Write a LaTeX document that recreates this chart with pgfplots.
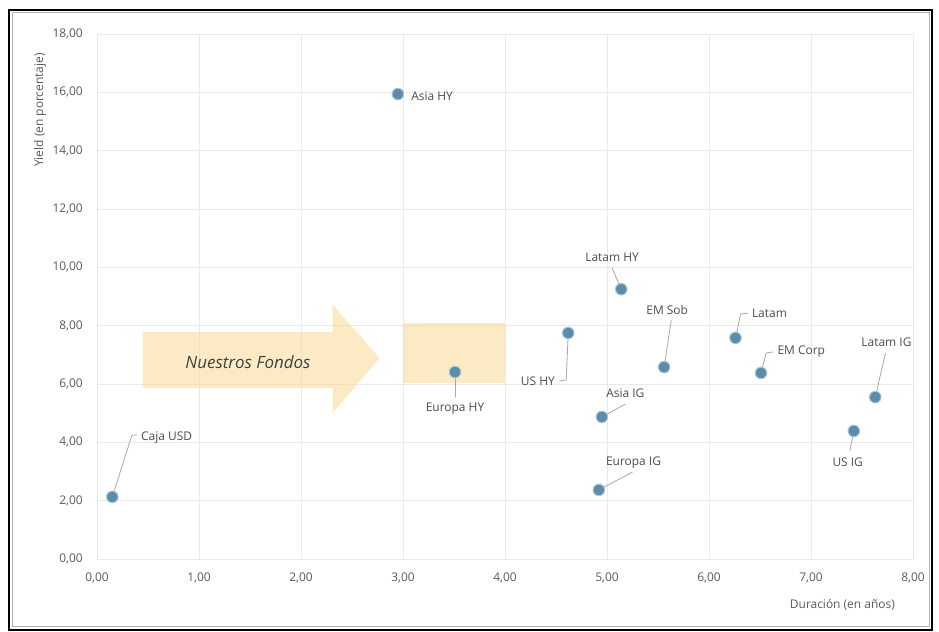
\documentclass[border=0pt]{standalone}
\usepackage{fontspec}
\setmainfont{Open Sans}
\usepackage{pgfplots}
\pgfplotsset{compat=1.18}
\definecolor{gridgray}{HTML}{E9E9E9}
\definecolor{tickgray}{HTML}{5A5A5A}
\definecolor{dotblue}{HTML}{5B8DAB}
\definecolor{dotring}{HTML}{A9C6D8}
\definecolor{leader}{HTML}{A8A8A8}
\definecolor{fondo}{RGB}{250,218,150}
\begin{document}
\begin{tikzpicture}
\path[use as bounding box] (0,0) rectangle (939bp,632bp);
\fill[white] (0,0) rectangle (939bp,632bp);
\begin{axis}[
  at={(97bp,73bp)}, anchor=south west,
  scale only axis, width=816bp, height=525bp,
  xmin=0, xmax=8, ymin=0, ymax=18,
  xtick={0,1,...,8}, ytick={0,2,...,18},
  grid=major, grid style={draw=gridgray, line width=0.9bp},
  axis line style={draw=gridgray, line width=0.9bp},
  tick style={draw=none},
  /pgf/number format/.cd, fixed, fixed zerofill, precision=2, use comma, assume math mode=true,
  /pgfplots/.cd,
  ticklabel style={font=\fontsize{12}{14}\selectfont, text=tickgray, inner sep=0pt},
  xticklabel style={anchor=center, yshift=-19bp},
  yticklabel style={anchor=east, xshift=-14bp},
  clip=false,
]
% dots
\addplot[only marks, mark=*, mark size=5.8bp, mark options={fill=dotblue, draw=dotring, line width=1bp}]
coordinates {
(0.15,2.13) (2.95,15.94) (3.51,6.41) (4.62,7.75) (5.14,9.25) (4.95,4.87)
(4.92,2.37) (5.56,6.58) (6.26,7.58) (6.51,6.38) (7.63,5.55) (7.42,4.39)
};
% Nuestros Fondos arrow and box
\fill[fondo, opacity=0.55] (axis cs:0.45,5.86) -- (axis cs:2.31,5.86) -- (axis cs:2.31,5.0)
  -- (axis cs:2.77,6.89) -- (axis cs:2.31,8.71) -- (axis cs:2.31,7.78) -- (axis cs:0.45,7.78) -- cycle;
\fill[fondo, opacity=0.55] (axis cs:3,6.05) rectangle (axis cs:4,8.08);
\node[font=\fontsize{17}{20}\selectfont\itshape, text=black!75] at (axis cs:1.48,6.75) {Nuestros Fondos};
% leaders
\begin{scope}[draw=leader, line width=0.8bp]
\draw (axis cs:0.15,2.13) -- (axis cs:0.343,4.25) -- (axis cs:0.392,4.25);
\draw (axis cs:3.51,6.41) -- (axis cs:3.51,5.55);
\draw (axis cs:4.62,7.75) -- (axis cs:4.60,6.14) -- (axis cs:4.53,6.10);
\draw (axis cs:5.14,9.25) -- (axis cs:5.05,9.98);
\draw (axis cs:4.95,4.87) -- (axis cs:5.18,5.31);
\draw (axis cs:4.92,2.37) -- (axis cs:5.25,2.98);
\draw (axis cs:5.56,6.58) -- (axis cs:5.63,8.19);
\draw (axis cs:6.26,7.58) -- (axis cs:6.31,8.40) -- (axis cs:6.38,8.43);
\draw (axis cs:6.51,6.38) -- (axis cs:6.56,7.06) -- (axis cs:6.63,7.10);
\draw (axis cs:7.63,5.55) -- (axis cs:7.73,7.06);
\draw (axis cs:7.42,4.39) -- (axis cs:7.38,3.70);
\end{scope}
% labels
\begin{scope}[every node/.style={font=\fontsize{12}{14}\selectfont, text=black!70, inner sep=0pt}]
\node[anchor=west] at (axis cs:0.431,4.18) {Caja USD};
\node[anchor=west] at (axis cs:3.08,15.87) {Asia HY};
\node at (axis cs:3.51,5.14) {Europa HY};
\node[anchor=east] at (axis cs:4.49,6.10) {US HY};
\node at (axis cs:5.05,10.35) {Latam HY};
\node at (axis cs:5.18,5.69) {Asia IG};
\node at (axis cs:5.26,3.29) {Europa IG};
\node at (axis cs:5.59,8.54) {EM Sob};
\node[anchor=west] at (axis cs:6.42,8.43) {Latam};
\node[anchor=west] at (axis cs:6.67,7.10) {EM Corp};
\node at (axis cs:7.74,7.44) {Latam IG};
\node at (axis cs:7.36,3.33) {US IG};
\end{scope}
\end{axis}
\node[anchor=east, font=\fontsize{12}{14}\selectfont, text=tickgray, inner sep=0pt] at (895bp,27bp) {Duración (en años)};
\node[rotate=90, font=\fontsize{12}{14}\selectfont, text=tickgray, inner sep=0pt] at (40bp,522bp) {Yield (en porcentaje)};
\draw[black!30, line width=1bp] (12bp,5bp) rectangle (929bp,619bp);
\draw[black, line width=1.5bp] (9bp,2bp) rectangle (932bp,622bp);
\end{tikzpicture}
\end{document}
